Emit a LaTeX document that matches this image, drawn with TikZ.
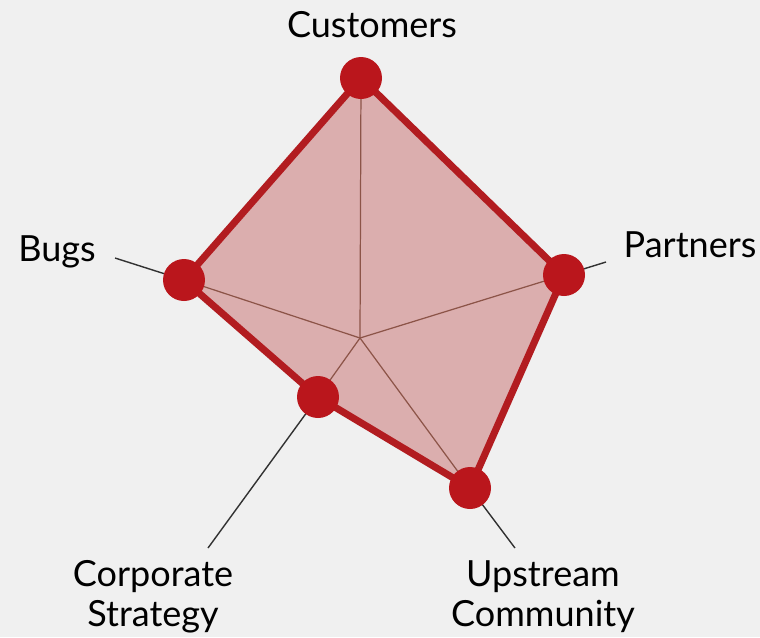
\documentclass[tikz,border=0pt]{standalone}
\usepackage{fontspec}
\setsansfont{Lato}
\usepackage{tikz}
\usetikzlibrary{calc,backgrounds}
\definecolor{paper}{RGB}{240,240,240}
\definecolor{areafill}{RGB}{219,174,174}
\definecolor{edgered}{RGB}{178,28,32}
\definecolor{dotred}{RGB}{186,22,28}
\definecolor{spokebrown}{RGB}{140,84,72}
\definecolor{axisgray}{RGB}{50,50,50}

\begin{document}
\begin{tikzpicture}[x=0.02cm,y=-0.02cm,
  dot/.style={circle, fill=dotred, minimum size=0.84cm, inner sep=0pt},
  spoke/.style={draw=spokebrown, line width=0.7pt},
  axisline/.style={draw=axisgray, line width=0.8pt},
  lbl/.style={font=\sffamily\fontsize{20.5}{22.7}\selectfont, align=center, inner sep=0pt}]
\fill[paper] (0,0) rectangle (760,637);
\useasboundingbox (0,0) rectangle (760,637);
% values on each axis
\coordinate (O) at (360,338);
\coordinate (cu) at (361,78);
\coordinate (pa) at (564,275);
\coordinate (up) at (470,488);
\coordinate (co) at (318,397);
\coordinate (bu) at (184,280);
% free ends of the axes
\coordinate (paend) at (606,262);
\coordinate (upend) at (515,548);
\coordinate (coend) at (208,548);
\coordinate (buend) at (115,258);
% area
\fill[areafill] (cu) -- (pa) -- (up) -- (co) -- (bu) -- cycle;
\foreach \p in {cu,pa,up,co,bu}
  \draw[spoke] (O) -- (\p);
\draw[axisline] (pa) -- (paend);
\draw[axisline] (up) -- (upend);
\draw[axisline] (co) -- (coend);
\draw[axisline] (bu) -- (buend);
\draw[edgered, line width=4pt, line join=round] (cu) -- (pa) -- (up) -- (co) -- (bu) -- cycle;
% markers
\node[dot] (cudot) at (cu) {};
\node[dot] (padot) at (pa) {};
\node[dot] (updot) at (up) {};
\node[dot] (codot) at (co) {};
\node[dot] (budot) at (bu) {};
% labels
\node[lbl] (culbl) at (372,25) {Customers};
\node[lbl] (palbl) at (690,245) {Partners};
\node[lbl] (bulbl) at (57,252) {Bugs};
\node[lbl] (colbl) at (153,597) {Corporate\\Strategy};
\node[lbl] (uplbl) at (543,597) {Upstream\\Community};
\end{tikzpicture}
\end{document}
